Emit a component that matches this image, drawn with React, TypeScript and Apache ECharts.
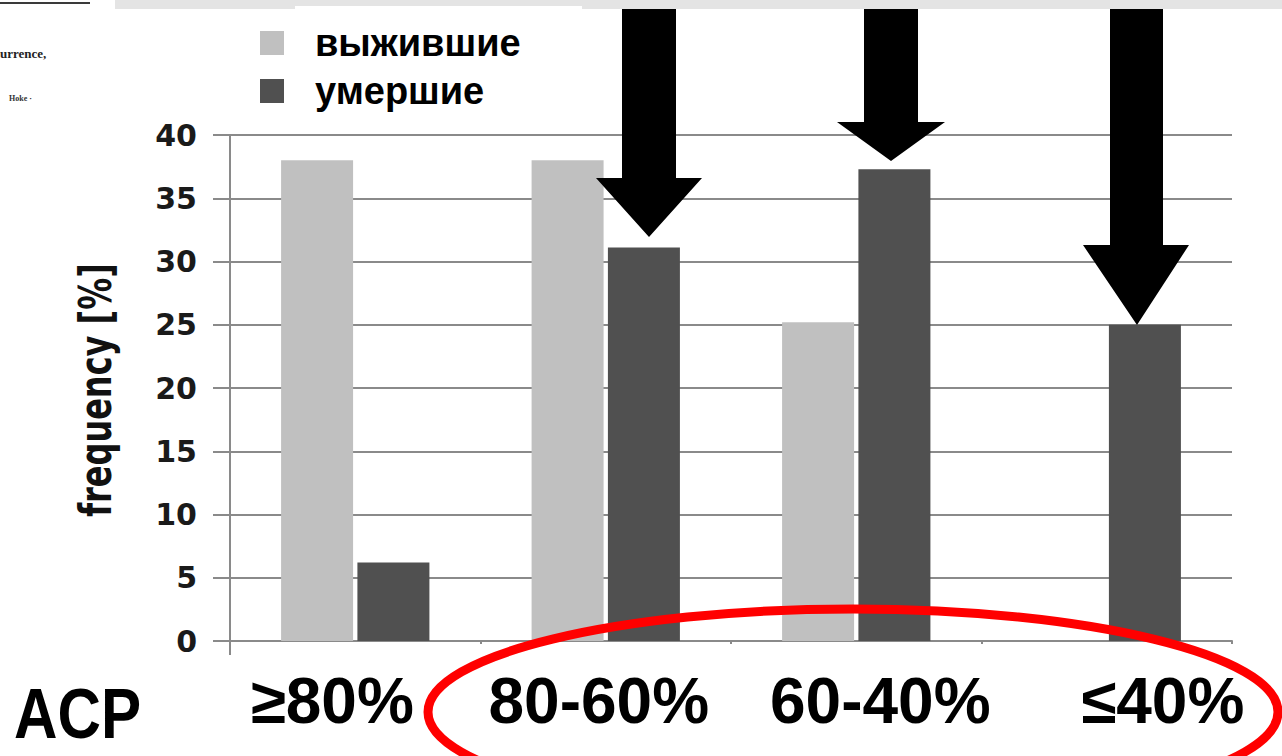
import React, { useEffect, useRef } from "react";
import * as echarts from "echarts";

// ACP groups on the category axis
const categories = ["≥80%", "80-60%", "60-40%", "≤40%"];
// frequency [%] per group
const survivedValues = [38, 38, 25.2, 0];
const diedValues = [6.2, 31.1, 37.3, 25];
const seriesNames = ["выжившие", "умершие"];
const yMin = 0;
const yMax = 40;
const yStep = 5;

const SANS = "'Liberation Sans', Arial, sans-serif";
const AXIS_FONT = "'DejaVu Sans', Verdana, sans-serif";
const GRID_GREY = "#8a8a8a";

// per-category label nudges (padding on the rich token shifts the centred label)
const labelPad: number[][] = [
  [0, 46, 0, 0],
  [0, 14, 0, 0],
  [0, 0, 0, 48],
  [0, 0, 0, 112],
];

function arrow(points: number[][]) {
  return {
    type: "polygon",
    z: 120,
    shape: { points },
    style: { fill: "#000" },
    silent: true,
  };
}

export default function App() {
  const ref = useRef<HTMLDivElement>(null);

  useEffect(() => {
    if (!ref.current) return;
    const chart = echarts.init(ref.current, null, { renderer: "svg" });

    const rich: Record<string, any> = {};
    categories.forEach((_, i) => {
      rich["c" + i] = {
        fontFamily: SANS,
        fontWeight: "bold",
        fontSize: 64,
        color: "#000",
        padding: labelPad[i],
      };
    });

    chart.setOption({
      animation: false,
      backgroundColor: "#fff",
      grid: { left: 230, right: 50, top: 135, bottom: 115, containLabel: false },
      legend: {
        orient: "vertical",
        left: 260,
        top: 24,
        padding: 0,
        icon: "rect",
        itemWidth: 24,
        itemHeight: 24,
        itemGap: 10,
        selectedMode: false,
        data: seriesNames,
        textStyle: {
          fontFamily: SANS,
          fontWeight: "bold",
          fontSize: 38,
          color: "#000",
          padding: [0, 0, 0, 26],
        },
      },
      xAxis: {
        type: "category",
        data: categories,
        axisLine: { show: true, lineStyle: { color: GRID_GREY, width: 2 } },
        axisTick: { show: true, length: 3, lineStyle: { color: GRID_GREY, width: 2 } },
        axisLabel: {
          interval: 0,
          margin: 28,
          formatter: (v: string, i: number) => `{c${i}|${v}}`,
          rich,
        },
      },
      yAxis: {
        type: "value",
        min: yMin,
        max: yMax,
        interval: yStep,
        axisLine: { show: true, lineStyle: { color: GRID_GREY, width: 2 } },
        axisTick: { show: true, length: 17, lineStyle: { color: GRID_GREY, width: 2 } },
        splitLine: { show: true, lineStyle: { color: GRID_GREY, width: 2 } },
        axisLabel: {
          margin: 33,
          fontFamily: AXIS_FONT,
          fontWeight: "bold",
          fontSize: 30,
          color: "#1a1a1a",
        },
      },
      series: [
        {
          name: seriesNames[0],
          type: "bar",
          data: survivedValues,
          barWidth: 72,
          barGap: "6%",
          itemStyle: { color: "#c0c0c0" },
        },
        {
          name: seriesNames[1],
          type: "bar",
          data: diedValues,
          barWidth: 72,
          itemStyle: { color: "#505050" },
        },
      ],
      graphic: [
        // page chrome along the top edge
        { type: "rect", z: 110, shape: { x: 115, y: 0, width: 1167, height: 9 }, style: { fill: "#e4e4e4" } },
        { type: "rect", z: 111, shape: { x: 295, y: 6, width: 287, height: 4 }, style: { fill: "#fff" } },
        { type: "line", z: 110, shape: { x1: 0, y1: 3, x2: 90, y2: 3 }, style: { stroke: "#3a3a3a", lineWidth: 2 } },
        {
          type: "text",
          z: 110,
          x: 0,
          y: 53,
          style: {
            text: "urrence,",
            font: "bold 13px 'Liberation Serif', 'DejaVu Serif', serif",
            fill: "#222",
            verticalAlign: "middle",
          },
        },
        {
          type: "text",
          z: 110,
          x: 9,
          y: 98,
          style: {
            text: "Hoke ·",
            font: "bold 8px 'Liberation Serif', 'DejaVu Serif', serif",
            fill: "#333",
            verticalAlign: "middle",
          },
        },
        // y axis runs slightly past zero
        { type: "line", z: 5, shape: { x1: 230, y1: 641, x2: 230, y2: 655 }, style: { stroke: GRID_GREY, lineWidth: 2 } },
        // y axis title
        {
          type: "text",
          z: 110,
          x: 95,
          y: 390,
          rotation: Math.PI / 2,
          scaleY: 1.4,
          style: {
            text: "frequency [%]",
            font: `bold 32px ${AXIS_FONT}`,
            fill: "#111",
            align: "center",
            verticalAlign: "middle",
          },
        },
        // ACP caption
        {
          type: "text",
          z: 110,
          x: 14,
          y: 714,
          scaleX: 0.86,
          style: {
            text: "ACP",
            font: `bold 70px ${SANS}`,
            fill: "#000",
            verticalAlign: "middle",
          },
        },
        // red ring around the three lower groups
        {
          type: "ellipse",
          z: 115,
          shape: { cx: 853, cy: 712, rx: 425, ry: 103 },
          style: { fill: "none", stroke: "#ff0000", lineWidth: 9 },
        },
        arrow([[622, 9], [676, 9], [676, 178], [702, 178], [649, 237], [596, 178], [622, 178]]),
        arrow([[864, 9], [918, 9], [918, 122], [945, 122], [891, 161], [837, 122], [864, 122]]),
        arrow([[1110, 9], [1163, 9], [1163, 245], [1189, 245], [1137, 325], [1083, 245], [1110, 245]]),
      ],
    });

    return () => chart.dispose();
  }, []);

  return (
    <div
      ref={ref}
      style={{ position: "fixed", left: 0, top: 0, width: 1282, height: 756, background: "#fff" }}
    />
  );
}
